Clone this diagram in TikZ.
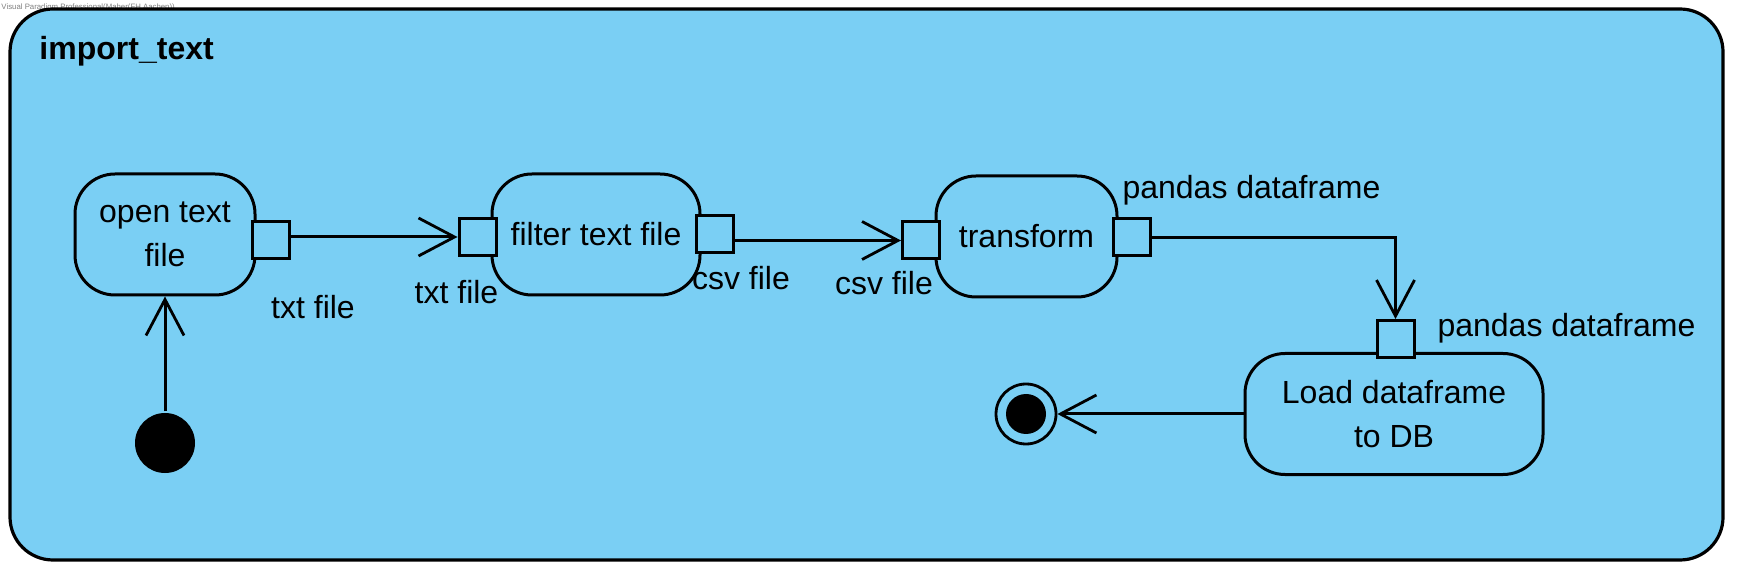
\documentclass[tikz,border=0pt]{standalone}
\usepackage{fontspec}
\setmainfont{Liberation Sans}
\usetikzlibrary{arrows.meta}
\definecolor{panelblue}{RGB}{122,207,244}
\begin{document}
\begin{tikzpicture}[x=0.5pt,y=-0.5pt,line width=1.5pt]
		\tikzset{action/.style={rectangle, rounded corners=20pt, align=center, inner sep=0pt, minimum height=60.5pt, line width=1.5pt, font=\fontsize{16pt}{22pt}\selectfont},
			pinbox/.style={rectangle, draw, fill=panelblue, line width=1.5pt, minimum size=18.5pt, inner sep=0pt},
			flowlabel/.style={inner sep=0pt, font=\fontsize{16pt}{19pt}\selectfont},
			>={Straight Barb[length=18pt, width=19pt, line width=1.4pt]}};
		\useasboundingbox (0,0) rectangle (1743,576);
		\node[anchor=west, inner sep=0pt, text=gray, font=\fontsize{3.9pt}{4pt}\selectfont] (Mark) at (0,7) {Visual Paradigm Professional(Maher(FH Aachen))};
		\draw[line width=1.6pt, fill=panelblue, rounded corners=21.5pt] (10,9) rectangle (1723,560);
		\node[anchor=base west, inner sep=0pt, font=\fontsize{16pt}{19pt}\selectfont\bfseries] (Title) at (38,60) {import\_text};
		% actions
		\node[draw,action,minimum width= 90pt ] (Open     ) at ( 165  ,234.5) {open text\\file};
		\node[draw,action,minimum width=104pt ] (Filter   ) at ( 596  ,234.5) {filter text file};
		\node[draw,action,minimum width=90.5pt] (Transform) at (1026.5,236.5) {transform};
		\node[draw,action,minimum width=149pt ] (Load     ) at (1394  ,414  ) {Load dataframe\\to DB};
		% pins
		\node[pinbox] (OpenOut  ) at ( 270.5,240.5) {};
		\node[pinbox] (FilterIn ) at ( 477.5,237  ) {};
		\node[pinbox] (FilterOut) at ( 714.5,234.5) {};
		\node[pinbox] (TransIn  ) at ( 921  ,240.5) {};
		\node[pinbox] (TransOut ) at (1131.5,237.5) {};
		\node[pinbox] (LoadIn   ) at (1395.5,339  ) {};
		% pin labels
		\node[flowlabel] (OpenOutL  ) at ( 313  ,307) {txt file};
		\node[flowlabel] (FilterInL ) at ( 456.5,292) {txt file};
		\node[flowlabel] (FilterOutL) at ( 741  ,278) {csv file};
		\node[flowlabel] (TransInL  ) at ( 884  ,283) {csv file};
		\node[flowlabel] (TransOutL ) at (1251.5,190) {pandas dataframe};
		\node[flowlabel] (LoadInL   ) at (1566.5,328) {pandas dataframe};
		% initial and final
		\node[circle, fill=black, minimum size=30pt, inner sep=0pt] (Start    ) at ( 165  ,443  ) {};
		\node[circle, draw, line width=1.4pt, minimum size=30pt, inner sep=0pt] (Final    ) at (1026  ,414  ) {};
		\fill (Final    .center) circle (10pt);
		% flows
		\draw[->] (Start    )--(Open     );
		\draw[->] (OpenOut  .east |- FilterIn .west)--(FilterIn .west);
		\draw[->] (FilterOut.east |- TransIn  .west)--(TransIn  .west);
		\draw[->] (TransOut ) -| (LoadIn   );
		\draw[->] (Load     )--(Final    );
	\end{tikzpicture}
\end{document}
